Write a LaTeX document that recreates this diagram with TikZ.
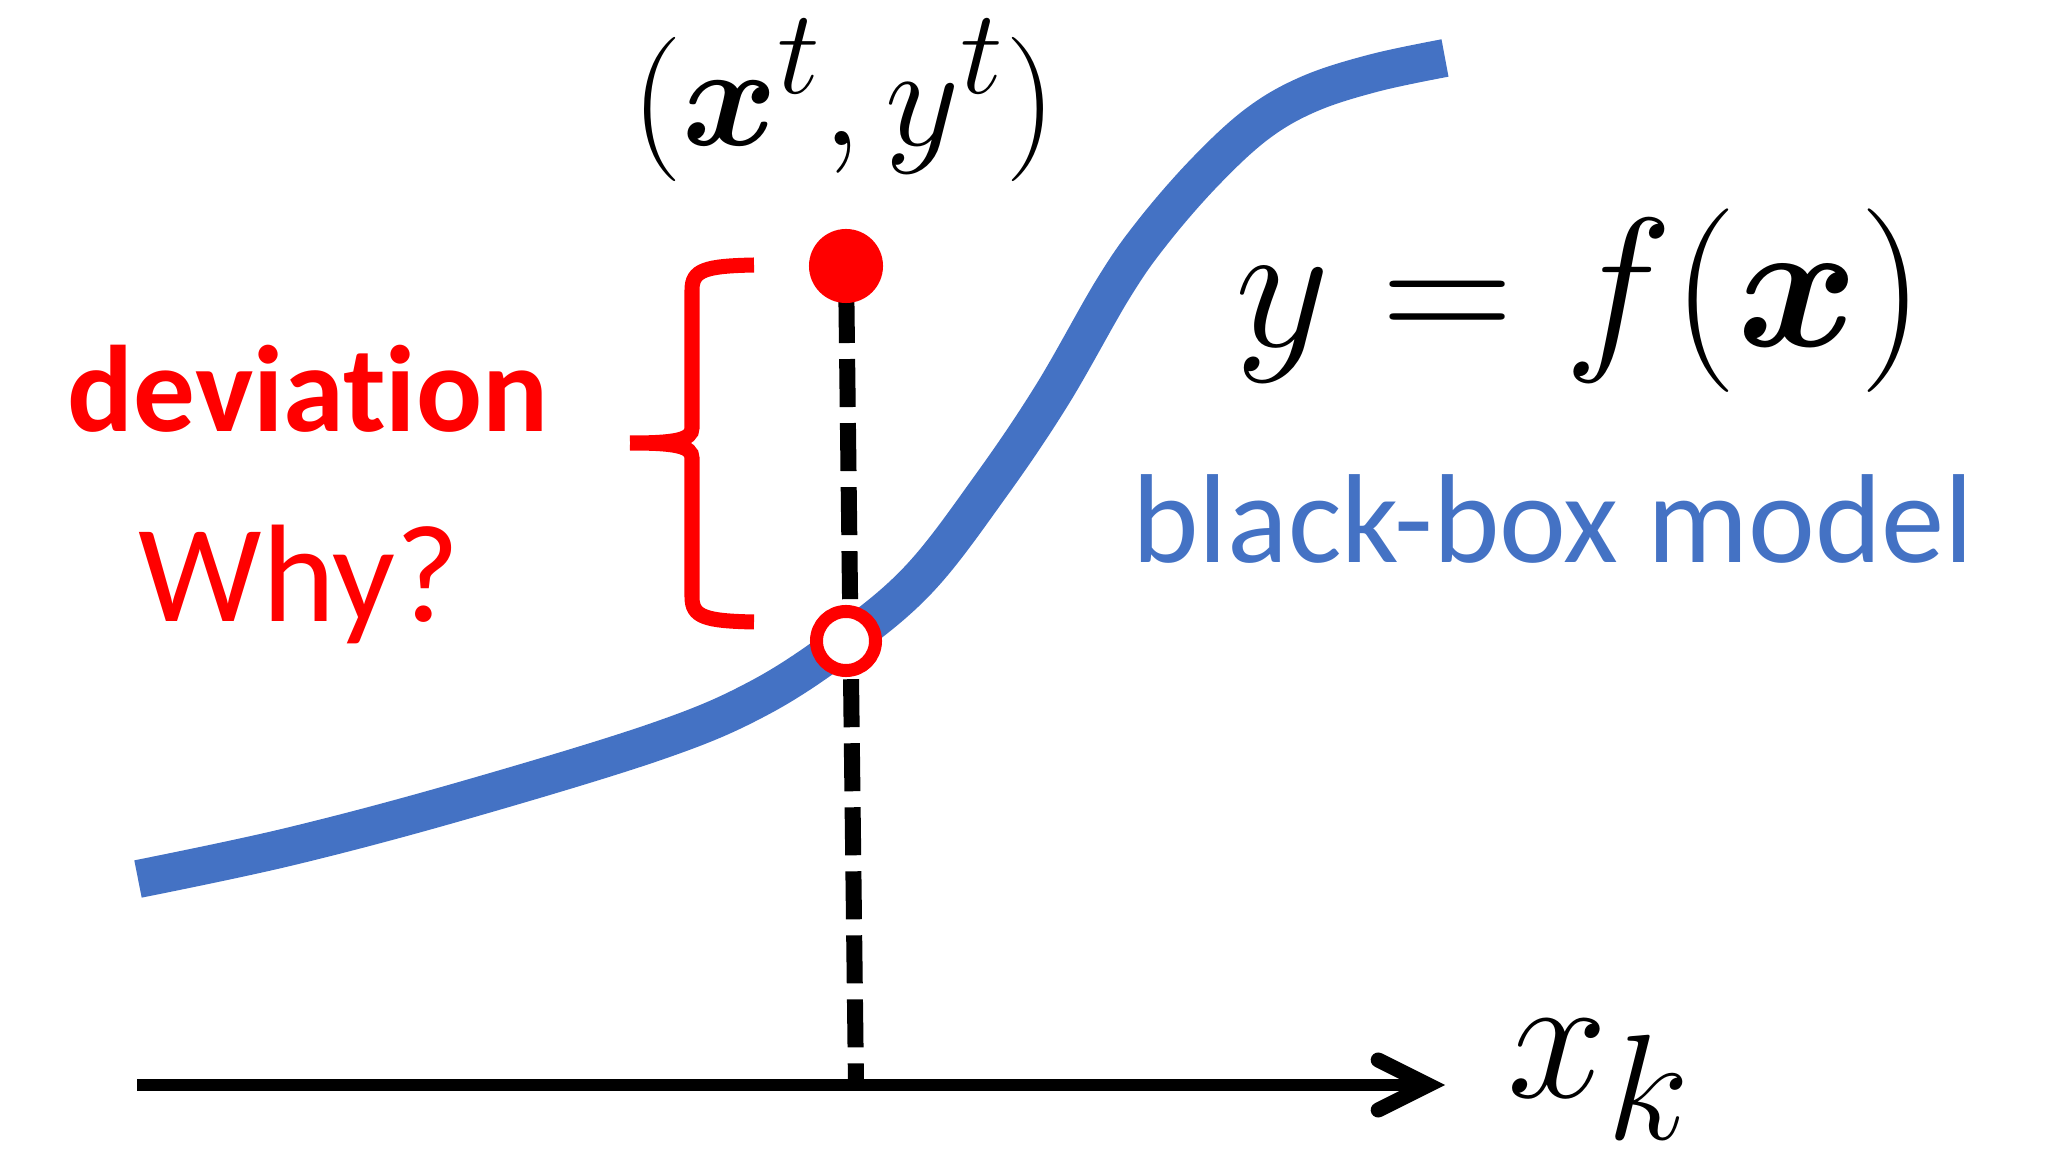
\documentclass[tikz,border=0pt]{standalone}
\usepackage{amssymb, amsmath}
\usepackage[no-math]{fontspec}
\setmainfont{Carlito}[Ligatures=NoCommon]
\usepackage{tikz}
\usetikzlibrary{arrows.meta}
\definecolor{devred}{RGB}{255, 0, 0}
\definecolor{boxblue}{RGB}{68, 114, 196}
\newcommand{\bigmath}[2]{\scalebox{#1}{\fontsize{24.88}{30}\selectfont $#2$}}

\begin{document}
\begin{tikzpicture}[x=0.01cm, y=-0.01cm,
  txt/.style={inner sep=0, anchor=base}]

  \useasboundingbox (0, 0) rectangle (2053, 1161);

  \coordinate (obs) at (846, 266);
  \coordinate (pred) at (846, 641);
  \coordinate (foot) at (856, 1085);
  \coordinate (ax0) at (137, 1085);
  \coordinate (ax1) at (1445, 1085);

  % axis
  \draw[line width=0.12cm, -{Straight Barb[length=0.5cm, width=0.5cm, line width=0.15cm, line cap=round]}] (ax0) -- (ax1);
  \node[txt, anchor=base west] (xk) at (1507, 1097) {\bigmath{2.06}{x_{k}}};

  % black-box model curve
  \draw[boxblue, line width=0.38cm] plot[smooth, tension=0.6] coordinates {
    (138, 879) (288, 847) (458, 802) (655, 742) (759, 698) (846, 641) (920, 578)
    (990, 487) (1052, 395) (1113, 289) (1152, 233) (1204, 173) (1257, 124)
    (1309, 94) (1374, 73) (1445, 58)};

  % drop line
  \draw[line width=0.16cm, dash pattern=on 0.48cm off 0.16cm, dash phase=0.35cm] (obs) -- (foot);

  \node[circle, fill=devred, minimum size=0.74cm, inner sep=0] (obsdot) at (obs) {};
  \node[circle, draw=devred, fill=white, line width=0.13cm, minimum size=0.59cm, inner sep=0] (preddot) at (pred) {};

  % brace
  \draw[devred, line width=0.15cm]
    (630, 443) .. controls (675, 443) and (692, 440) .. (692, 428) -- (692, 290)
      .. controls (692, 270) and (705, 266) .. (754, 265)
    (630, 443) .. controls (675, 443) and (692, 446) .. (692, 458) -- (692, 597)
      .. controls (692, 617) and (705, 621) .. (754, 622);

  \node[txt, devred, font=\bfseries\fontsize{35}{42}\selectfont] (dev) at (308, 432) {deviation};
  \node[txt, devred, font=\fontsize{39.5}{47}\selectfont] (why) at (299, 622) {Why?};
  \node[txt, boxblue, font=\fontsize{36}{43}\selectfont] (bbm) at (1553, 563) {black-box model};

  \node[txt] (pt) at (844, 146) {\bigmath{1.65}{(\boldsymbol{x}^{t}, y^{t})}};
  \node[txt] (fx) at (1580, 347) {\bigmath{2.1}{y = f(\boldsymbol{x})}};

\end{tikzpicture}
\end{document}
